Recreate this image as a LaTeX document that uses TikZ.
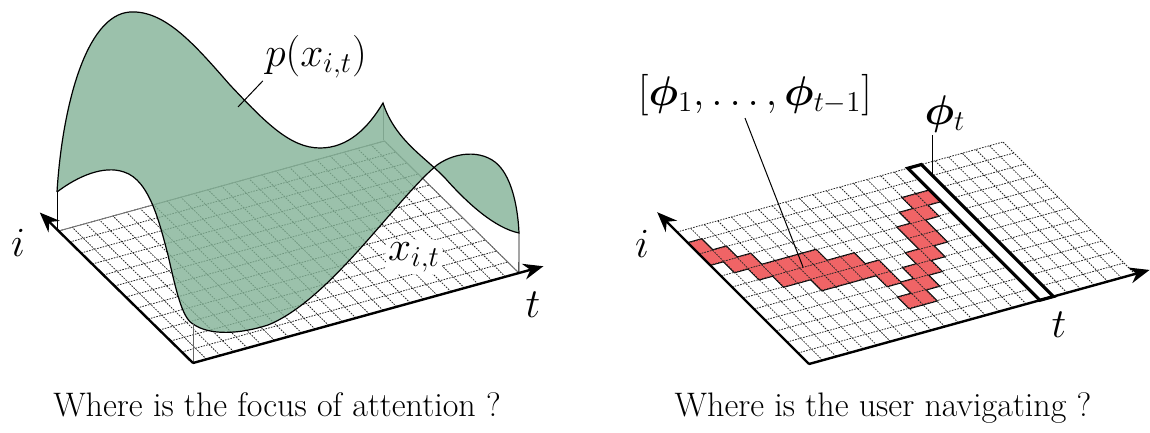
\documentclass[tikz,border=0pt]{standalone}
\usepackage{amsmath,bm}
\usetikzlibrary{arrows.meta,calc}
\definecolor{surfgreen}{RGB}{130,178,150}
\definecolor{pathred}{RGB}{240,100,102}
\tikzset{
  gridline/.style={dash pattern=on 0.8pt off 0.6pt,line width=0.4pt,black!85},
  axis/.style={line width=1.2pt,-{Stealth[length=10pt,width=8pt]}},
  leader/.style={line width=0.5pt},
  corner/.style={line width=0.45pt},
  surface/.style={fill=surfgreen,fill opacity=0.8,draw=black,line width=0.6pt},
  lbl/.style={font=\huge,inner sep=1pt},
  caption/.style={font=\fontsize{17}{20}\selectfont,anchor=base}
}
\newcommand\pathcells{0/10,0/9,1/9,1/8,2/8,2/7,3/7,3/6,4/7,4/6,5/7,5/6,5/5,6/7,6/6,6/5,7/6,7/5,8/6,8/5,9/5,9/4,10/3,10/2,9/2,11/3,11/4,12/4,12/5,13/5,13/6,14/6,14/7,13/7,14/8,15/8,15/9,16/9}
\begin{document}
\begin{tikzpicture}[x=0.5pt,y=-0.5pt]
\useasboundingbox (0,0) rectangle (1150,433);

% left: grid under the surface
\begin{scope}[shift={(193,363)},x={(6.79pt,1.875pt)},y={(-5.6pt,5.5pt)}]
\foreach \c in {0,...,24}
  \draw[gridline] (\c,0) -- (\c,12);
\foreach \r in {0,...,12}
  \draw[gridline] (0,\r) -- (24,\r);
\draw[corner,black!55] (0,12) -- (24,12) -- (24,0);
\coordinate (LO) at (0,0);
\coordinate (LB) at (0,12);
\coordinate (LR) at (24,0);
\end{scope}
\draw[corner,black!55] (383,140) -- (383,103);
\node[lbl,fill=white] (xit) at (414,257) {$x_{i,t}$};

% left: surface p
\path[surface] (57,192)
  .. controls (78,176) and (104,165) .. (124,172)
  .. controls (150,180) and (160,225) .. (168,255)
  .. controls (176,290) and (182,318) .. (193,324)
  .. controls (210,336) and (240,334) .. (268,325)
  .. controls (330,300) and (395,200) .. (437,165)
  .. controls (458,150) and (487,150) .. (501,168)
  .. controls (513,183) and (518,210) .. (519,233)
  .. controls (495,228) and (468,204) .. (445,178)
  .. controls (425,157) and (395,140) .. (383,103)
  .. controls (368,128) and (348,148) .. (320,148)
  .. controls (290,148) and (265,122) .. (230,85)
  .. controls (195,45) and (165,10) .. (130,12)
  .. controls (85,15) and (62,110) .. (57,192);
\draw[corner] (57,192) -- (57,230);
\draw[corner,black!60] (LO) -- (193,324);
\draw[corner] (LR) -- (519,233);

% left: axes and labels
\draw[axis] (LO) -- ($(LO)!1.14!(LB)$);
\draw[axis] (LO) -- ($(LO)!1.075!(LR)$);
\node[lbl] (li) at (18,243) {$i$};
\node[lbl] (lt) at (533,305) {$t$};
\node[lbl] (plabel) at (316,57) {$p(x_{i,t})$};
\coordinate (psurf) at (238,107);
\draw[leader] (plabel.south west) -- (psurf);

% right: grid with navigation path
\begin{scope}[shift={(809,364)},x={(6.79pt,1.875pt)},y={(-5.5pt,5.5pt)}]
\foreach \c/\r in \pathcells
  \draw[line width=1pt] (\c,\r) -- ++(1,0) -- ++(0,1) -- ++(-1,0) -- cycle;
\foreach \c/\r in \pathcells
  \fill[pathred] (\c,\r) -- ++(1,0) -- ++(0,1) -- ++(-1,0) -- cycle;
\foreach \c in {0,...,24}
  \draw[gridline] (\c,0) -- (\c,12);
\foreach \r in {0,...,12}
  \draw[gridline] (0,\r) -- (24,\r);
\filldraw[fill=white,line width=1.6pt] (17,0) -- (18,0) -- (18,12) -- (17,12) -- cycle;
\coordinate (RO) at (0,0);
\coordinate (RB) at (0,12);
\coordinate (RR) at (24,0);
\coordinate (phitend) at (18,11);
\end{scope}

% right: axes and labels
\draw[axis] (RO) -- ($(RO)!1.15!(RB)$);
\draw[axis] (RO) -- ($(RO)!1.045!(RR)$);
\node[lbl] (ri) at (642,244) {$i$};
\node[lbl] (rt) at (1059,325) {$t$};
\node[lbl] (phit) at (945,114) {$\bm{\phi}_t$};
\node[lbl,font=\fontsize{19.5}{23}\selectfont] (phiall) at (755,95) {$[\bm{\phi}_1,\ldots,\bm{\phi}_{t-1}]$};
\coordinate (phiend) at (803,267);
\draw[leader] (phitend |- phit.south) -- (phitend);
\draw[leader] ([xshift=-5pt]phiall.south) -- (phiend);

% captions
\node[caption] (capl) at (277,416) {Where is the focus of attention ?};
\node[caption] (capr) at (883,416) {Where is the user navigating ?};
\end{tikzpicture}
\end{document}
